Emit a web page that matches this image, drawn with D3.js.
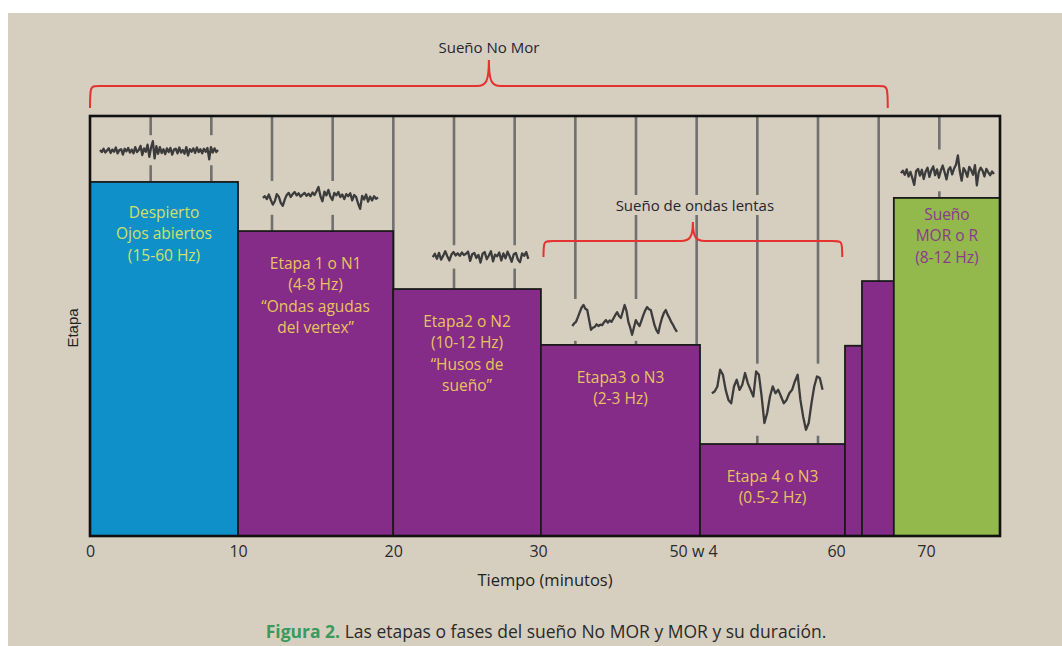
<!DOCTYPE html>
<html><head><meta charset="utf-8">
<script src="https://cdn.jsdelivr.net/npm/d3@7"></script>
<style>
body{margin:0;background:#fff;}
svg{display:block;font-family:"Open Sans",sans-serif;}
</style></head>
<body><svg id="c" width="1062" height="646"></svg>
<script>
// ---- data ----
const stages = ["Despierto","Etapa 1 o N1","Etapa2 o N2","Etapa3 o N3","Etapa 4 o N3","N3","N2","Sueño MOR o R"];
const stageStart = [0, 9.76, 19.99, 29.73, 40.22, 49.78, 50.9, 53.0];
const stageEnd   = [9.76, 19.99, 29.73, 40.22, 49.78, 50.9, 53.0, 60];
const stageDepth = [84.3, 72.6, 58.8, 45.5, 21.9, 45.3, 60.7, 80.5];
const stageKind  = ["wake","nrem","nrem","nrem","nrem","nrem","nrem","rem"];
const stageLabels = [
  ["Despierto","Ojos abiertos","(15-60 Hz)"],
  ["Etapa 1 o N1","(4-8 Hz)","\u201cOndas agudas","del vertex\u201d"],
  ["Etapa2 o N2","(10-12 Hz)","\u201cHusos de","sue\u00f1o\u201d"],
  ["Etapa3 o N3","(2-3 Hz)"],
  ["Etapa 4 o N3","(0.5-2 Hz)"],
  [],[],
  ["Sue\u00f1o","MOR o R","(8-12 Hz)"]
];
const tickValues = [0, 9.76, 19.99, 29.54, 39.76, 49.19, 55.12];
const tickLabels = ["0","10","20","30","50 w 4","60","70"];
const gridValues = [4,8,12,16,20,24,28,32,36,40,44,48,52,56];

// EEG traces: start/end (minutes), baseline (stage units), deflections (stage units)
const traceStart = [0.66, 11.4, 22.6, 31.8, 41.0, 53.47];
const traceEnd   = [8.44, 18.99, 28.9, 38.7, 48.3, 59.6];
const traceBase  = [91.7, 80.5, 66.4, 51.2, 32.9, 86.4];
const eegAwake = [0.2,-0.3,0.5,-0.4,0.1,0.6,-0.5,0.3,-0.2,0.8,-0.6,0.2,0.4,-0.9,0.5,-0.1,0.7,-0.4,0.3,-0.6,0.9,-0.3,0.2,1.2,-1.0,0.6,-0.2,1.5,-1.4,0.8,2.3,-1.8,1.1,-0.7,0.9,-0.5,0.4,-0.8,0.6,-0.3,0.7,-0.9,0.3,0.5,-0.6,0.8,-0.4,0.2,-0.7,0.9,-1.1,0.4,-0.2,0.6,-0.5,0.8,-0.3,0.4,-0.6,0.5,-0.2,0.7,-2.0,0.9,-0.4,0.6,-0.3,0.2];
const eegN1 = [0,0.4,-0.3,0.8,-0.5,-1.6,-0.8,0.9,0.3,-1.2,-1.9,-0.4,0.7,1.2,0.2,0.9,1.4,0.6,1.1,0.3,0.8,1.2,0.5,1.0,0.4,1.3,0.7,1.6,2.6,0.4,-0.8,1.5,0.6,1.9,0.3,-0.5,1.2,0.6,1.4,0.2,0.8,-0.3,0.9,0.4,1.1,-0.6,0.7,0.2,-1.4,-2.6,0.5,-0.4,0.8,-0.9,0.3,-0.6,0.4,-0.2,0.1];
const eegN2 = [0,0.8,-0.4,1.0,-0.6,0.3,1.4,0.2,-0.8,0.6,1.2,0.4,0.9,0.3,1.1,0.5,0.8,1.3,-0.9,0.7,1.0,-0.2,0.5,-1.3,0.8,1.2,-0.5,0.4,1.4,-1.0,0.6,0.2,1.1,-0.8,0.9,-0.3,1.3,0.2,-1.1,0.7,1.0,-0.6,-1.2,0.9,0.3,1.2,-0.4];
const eegN3 = [-1.2,-0.6,-0.2,0.9,2.1,3.2,3.8,2.9,2.6,0.3,-2.1,-1.6,-1.4,-0.8,-1.2,-0.9,-1.0,-0.3,0.2,-0.4,0.1,-0.2,0.6,1.4,2.1,1.2,0.7,2.2,3.8,2.4,-0.2,-1.6,-3.3,-1.5,0.2,-0.6,-1.2,0.1,1.4,2.5,3.3,2.8,2.6,0.8,-1.0,-2.2,-2.9,-0.9,0.7,1.9,2.6,1.5,0.7,-0.3,-1.0,-1.9,-2.6];
const eegN4 = [1.1,1.5,2.7,6.7,5.5,1.9,-0.5,-1.3,2.7,4.3,1.9,3.1,5.9,3.5,1.9,0.3,6.3,5.5,0.3,-6.0,-3.6,0.3,2.7,1.1,1.9,0.3,-1.3,-0.5,1.1,1.9,3.9,5.5,-0.5,-4.5,-7.6,-6.0,-1.3,2.7,5.1,4.7,1.9];
const eegREM = [0,0.6,-0.4,0.9,-0.8,0.3,-1.2,-2.8,0.5,1.0,-0.6,0.8,-1.4,0.4,1.3,-0.9,0.7,1.6,-0.5,0.9,-1.1,0.6,1.8,0.2,-1.5,0.8,1.4,-0.3,1.1,2.0,4.2,0.5,-1.8,1.2,0.4,-0.9,1.5,0.7,-0.4,1.9,-2.9,0.3,1.3,0.6,-0.8,1.0,0.2,-0.5,0.4,-0.2];
const traces = [eegAwake, eegN1, eegN2, eegN3, eegN4, eegREM];

// braces: [start, end] in minutes
const braceNames = ["Sue\u00f1o No Mor","Sue\u00f1o de ondas lentas"];
const braceStart = [0, 29.9];
const braceEnd = [52.6, 49.6];

// ---- drawing ----
const svg = d3.select("#c");
const W = 1062, H = 646;
const m = {left:90, right:1000, top:116, bottom:536};
const x = d3.scaleLinear().domain([0,60]).range([m.left, m.right]);
const y = d3.scaleLinear().domain([0,100]).range([m.bottom, m.top]);
const fill = {wake:"#1090c9", nrem:"#842c88", rem:"#93b84b"};
const labelColor = {wake:"#cfe06a", nrem:"#e8c45e", rem:"#8b3a8e"};
const beige = "#d6cfc0";

svg.append("rect").attr("x",8).attr("y",13).attr("width",W-8).attr("height",H-13).attr("fill",beige);

// grid lines
svg.append("g").selectAll("line").data(gridValues).join("line")
  .attr("x1",d=>x(d)).attr("x2",d=>x(d)).attr("y1",y(100)).attr("y2",y(0))
  .attr("stroke","#707070").attr("stroke-width",2.6);

// traces with halo
const tg = svg.append("g");
traces.forEach((vals,i)=>{
  const tx = d3.scaleLinear().domain([0, vals.length-1]).range([x(traceStart[i]), x(traceEnd[i])]);
  const ext = d3.extent(vals);
  const pad = 6;
  tg.append("rect")
    .attr("x", tx(0)).attr("width", tx(vals.length-1)-tx(0))
    .attr("y", y(traceBase[i]+ext[1])-pad)
    .attr("height", y(traceBase[i]+ext[0]) - y(traceBase[i]+ext[1]) + 2*pad)
    .attr("fill", beige);
  const line = d3.line().x((d,j)=>tx(j)).y(d=>y(traceBase[i]+d));
  tg.append("path").attr("d", line(vals)).attr("fill","none")
    .attr("stroke","#3c3c3c").attr("stroke-width",2.3).attr("stroke-linejoin","round");
});

// bars
const bars = stages.map((s,i)=>({s, x0:stageStart[i], x1:stageEnd[i], v:stageDepth[i], k:stageKind[i], lab:stageLabels[i]}));
svg.append("g").selectAll("rect").data(bars).join("rect")
  .attr("x",d=>x(d.x0)).attr("y",d=>y(d.v))
  .attr("width",d=>x(d.x1)-x(d.x0)).attr("height",d=>y(0)-y(d.v))
  .attr("fill",d=>fill[d.k]).attr("stroke","#1a1a1a").attr("stroke-width",1.8);

// bar labels
const lg = svg.append("g").attr("font-size",15.5).attr("text-anchor","middle");
bars.forEach(d=>{
  d.lab.forEach((t,j)=>{
    lg.append("text").attr("x",(x(d.x0)+x(d.x1))/2)
      .attr("y", y(d.v) + (d.k==="rem"?22:(d.k==="wake"?36:38)) + j*21.3)
      .attr("fill",labelColor[d.k]).text(t);
  });
});

// frame
svg.append("rect").attr("x",m.left).attr("y",m.top).attr("width",m.right-m.left).attr("height",m.bottom-m.top)
  .attr("fill","none").attr("stroke","#111").attr("stroke-width",2.6);

// x axis tick labels
const axis = d3.axisBottom(x).tickValues(tickValues).tickSize(0).tickPadding(10)
  .tickFormat((d,i)=>tickLabels[i]);
const ag = svg.append("g").attr("transform",`translate(0,${m.bottom})`).call(axis);
ag.select(".domain").remove();
ag.selectAll("text").attr("font-family","Open Sans").attr("font-size",16).attr("fill","#2a2a2a");

// axis titles
svg.append("text").attr("x",545).attr("y",586).attr("text-anchor","middle")
  .attr("font-size",16.5).attr("fill","#222").text("Tiempo (minutos)");
svg.append("text").attr("transform","translate(78,328) rotate(-90)").attr("text-anchor","middle")
  .attr("font-family","Liberation Sans").attr("font-size",15).attr("fill","#222").text("Etapa");

// braces
function brace(x0, x1, yEnd, yBar, yPeak){
  const xm = (x0+x1)/2, r = 10;
  return `M${x0},${yEnd} C${x0},${yBar} ${x0},${yBar} ${x0+r},${yBar} `+
    `L${xm-12},${yBar} C${xm-3},${yBar} ${xm},${yBar-4} ${xm},${yPeak} `+
    `C${xm},${yBar-4} ${xm+3},${yBar} ${xm+12},${yBar} `+
    `L${x1-r},${yBar} C${x1},${yBar} ${x1},${yBar} ${x1},${yEnd}`;
}
const bg = svg.append("g");
const braceY = [[108,86,60,48],[257,241,222,206]];
braceNames.forEach((n,i)=>{
  const x0 = x(braceStart[i]), x1 = x(braceEnd[i]);
  const [ye,yb,yp,yt] = braceY[i];
  bg.append("path").attr("d",brace(x0,x1,ye,yb,yp)).attr("fill","none")
    .attr("stroke","#e5322f").attr("stroke-width",2);
  const t = bg.append("text").attr("x",(x0+x1)/2+ (i?2:0)).attr("y",yt+5).attr("text-anchor","middle")
    .attr("font-size",15).attr("fill","#252530").text(n);
  if(i===1){
    const bb = t.node().getBBox();
    bg.insert("rect","text").attr("x",bb.x-2).attr("y",bb.y).attr("width",bb.width+4).attr("height",bb.height)
      .attr("fill",beige);
  }
});

// caption
const cap = svg.append("text").attr("x",546).attr("y",638).attr("text-anchor","middle").attr("font-size",17.5);
cap.append("tspan").attr("fill","#3a9a5c").attr("font-weight","bold").text("Figura 2.");
cap.append("tspan").attr("fill","#2a2a2a").text(" Las etapas o fases del sue\u00f1o No MOR y MOR y su duraci\u00f3n.");
</script></body></html>
